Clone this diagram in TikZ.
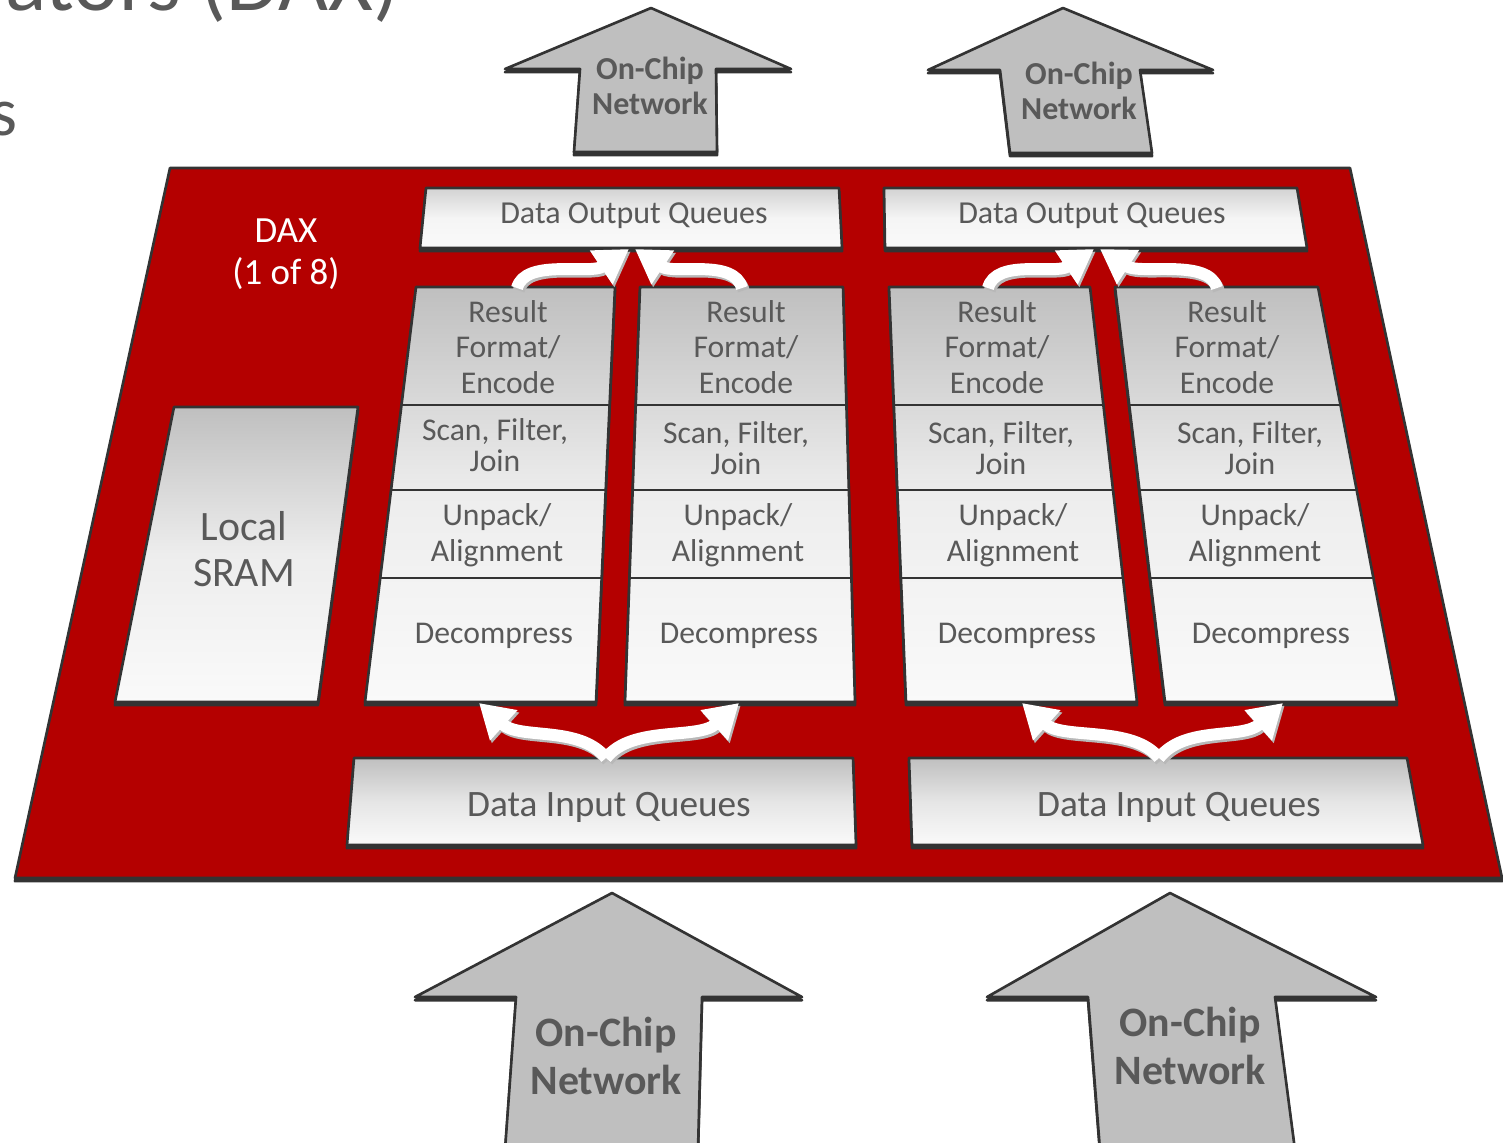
\documentclass[tikz,border=0pt]{standalone}
\usepackage{fontspec}
\setmainfont{Carlito}
\usetikzlibrary{arrows.meta}

\definecolor{daxred}{HTML}{B40000}
\definecolor{txtgray}{HTML}{595959}
\definecolor{rimgray}{HTML}{333333}
\definecolor{netgray}{HTML}{BFBFBF}

\begin{document}
\begin{tikzpicture}[
  x=0.01cm, y=-0.01cm,
  line join=round,
  rim/.style={draw=rimgray, line width=0.75pt},
  dropshadow/.style={preaction={fill=rimgray, draw=rimgray, line width=0.75pt,
      transform canvas={yshift=-0.9pt}}},
  slab/.style={rim, dropshadow, fill=daxred},
  unitbox/.style={rim, dropshadow, top color=gray!50, bottom color=white!98!black, middle color=white!93!black},
  queuebox/.style={rim, dropshadow, top color=gray!50, bottom color=white!98!black, middle color=white!90!black},
  outbox/.style={rim, dropshadow, top color=gray!35, bottom color=white!98!black, middle color=white!96!black},
  netbox/.style={rim, dropshadow, fill=netgray},
  lab/.style={text=txtgray, align=center, inner sep=0pt, font=\fontsize{9}{10.2}\selectfont},
  netlab/.style={text=txtgray, align=center, inner sep=0pt},
  flow/.style={draw=white, line width=3.4pt, -{Triangle[width=11pt,length=9.5pt]}},
  flowshadow/.style={draw=black!28, line width=3.4pt, -{Triangle[width=11pt,length=9.5pt]},
      transform canvas={xshift=0.5pt, yshift=-0.7pt}}
]
\useasboundingbox (0,0) rectangle (1503,1142);
\clip (0,0) rectangle (1503,1142);

% slide text behind the figure
\node[anchor=base east, text=txtgray, inner sep=0pt, font=\fontsize{24.5}{29}\selectfont]
  (title) at (400,10) {Accelerators (DAX)};
\node[anchor=base east, text=txtgray, inner sep=0pt, font=\fontsize{19.6}{24}\selectfont]
  (bullet) at (18,135) {s};

% the DAX plane
\path[slab] (170,168) -- (1350,168) -- (1502,878) -- (15,878) -- cycle;
\node[lab, text=white, font=\fontsize{10.5}{11.9}\selectfont] (dax) at (286,254) {DAX\\(1 of 8)};

\path[unitbox] (174,407) -- (358,407) -- (318,702) -- (115,702) -- cycle;
\node[lab, font=\fontsize{11.9}{13.1}\selectfont] (sram) at (244,549) {Local\\SRAM};

% pipelines
\path[unitbox] (416,287) -- (615,287) -- (596,702) -- (365,702) -- cycle;
\path[unitbox] (640,287) -- (843,287) -- (855,702) -- (625,702) -- cycle;
\path[unitbox] (889,287) -- (1090,287) -- (1137,702) -- (906,702) -- cycle;
\path[unitbox] (1115,287) -- (1318,287) -- (1397,702) -- (1165,702) -- cycle;

\draw[rim] (401.5,405) -- (609.6,405) (391.1,490) -- (605.7,490) (380.2,578) -- (601.7,578);
\draw[rim] (635.7,405) -- (846.4,405) (632.7,490) -- (848.9,490) (629.5,578) -- (851.4,578);
\draw[rim] (893.8,405) -- (1103.4,405) (897.3,490) -- (1113.0,490) (900.9,578) -- (1123.0,578);
\draw[rim] (1129.2,405) -- (1340.5,405) (1139.5,490) -- (1356.6,490) (1150.1,578) -- (1373.4,578);

\foreach \c/\rx/\sx/\sy/\ux/\dx in {A/508/495/445/497/494, B/746/736/448/738/739,
    C/997/1001/448/1013/1017, D/1227/1250/448/1255/1271} {
  \node[lab] (res\c) at (\rx,347) {Result\\Format/\\Encode};
  \node[lab, font=\fontsize{9}{8.6}\selectfont] (scan\c) at (\sx,\sy) {Scan, Filter,\\Join};
  \node[lab] (unp\c) at (\ux,535) {Unpack/\\Alignment};
  \node[lab] (dec\c) at (\dx,636) {Decompress};
}

% queues
\path[outbox] (426,188) -- (839,188) -- (842,248) -- (420,248) -- cycle;
\path[outbox] (884,188) -- (1297,188) -- (1307,248) -- (885,248) -- cycle;
\path[queuebox] (354,758) -- (853,758) -- (856,845) -- (347,845) -- cycle;
\path[queuebox] (909,758) -- (1407,758) -- (1423,845) -- (912,845) -- cycle;
\node[lab, font=\fontsize{9.1}{10}\selectfont] (outq1) at (634,216) {Data Output Queues};
\node[lab, font=\fontsize{9.1}{10}\selectfont] (outq2) at (1092,216) {Data Output Queues};
\node[lab, font=\fontsize{10.6}{12}\selectfont] (inq1) at (609,807) {Data Input Queues};
\node[lab, font=\fontsize{10.6}{12}\selectfont] (inq2) at (1179,807) {Data Input Queues};

% flow arrows
\coordinate (srcA) at (517,288);
\coordinate (srcB) at (742,288);
\coordinate (srcC) at (988,288);
\coordinate (srcD) at (1217,288);
\coordinate (oq1a) at (629,249);
\coordinate (oq1b) at (635,249);
\coordinate (oq2a) at (1094,249);
\coordinate (oq2b) at (1100,249);
\coordinate (iq1) at (606,758);
\coordinate (iq2) at (1159,758);
\coordinate (snkA) at (479,703);
\coordinate (snkB) at (739,703);
\coordinate (snkC) at (1022,703);
\coordinate (snkD) at (1283,703);

\foreach \s in {flowshadow, flow} {
  \draw[\s] (srcA) .. controls (525,258) and (590,275) .. (oq1a);
  \draw[\s] (srcB) .. controls (734,258) and (674,275) .. (oq1b);
  \draw[\s] (srcC) .. controls (996,258) and (1055,275) .. (oq2a);
  \draw[\s] (srcD) .. controls (1209,258) and (1140,275) .. (oq2b);
  \draw[\s] (iq1) .. controls (580,725) and (520,740) .. (snkA);
  \draw[\s] (iq1) .. controls (632,725) and (698,740) .. (snkB);
  \draw[\s] (iq2) .. controls (1133,725) and (1063,740) .. (snkC);
  \draw[\s] (iq2) .. controls (1185,725) and (1242,740) .. (snkD);
}

% on-chip network
\path[netbox] (651,8) -- (791,69) -- (716,69) -- (717,152) -- (574,152) -- (580,69) -- (505,69) -- cycle;
\path[netbox] (1063,8) -- (1213,70) -- (1140,70) -- (1152,153) -- (1010,153) -- (1000,70) -- (928,70) -- cycle;
\path[netbox] (612,893) -- (802,997) -- (702,997) -- (698,1150) -- (505,1150) -- (516,997) -- (415,997) -- cycle;
\path[netbox] (1170,893) -- (1376,997) -- (1275,997) -- (1295,1150) -- (1100,1150) -- (1088,997) -- (987,997) -- cycle;
\node[netlab, font=\bfseries\fontsize{9.1}{10}\selectfont] (net1) at (650,86) {On-Chip\\Network};
\node[netlab, font=\bfseries\fontsize{9.1}{10}\selectfont] (net2) at (1079,91) {On-Chip\\Network};
\node[netlab, font=\bfseries\fontsize{11.9}{13.7}\selectfont] (net3) at (606,1056) {On-Chip\\Network};
\node[netlab, font=\bfseries\fontsize{11.9}{13.7}\selectfont] (net4) at (1190,1046) {On-Chip\\Network};
\end{tikzpicture}
\end{document}
